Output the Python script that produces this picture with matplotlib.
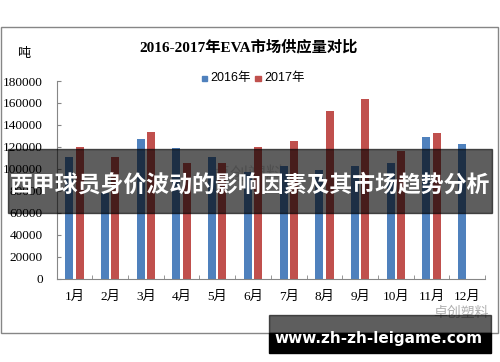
import matplotlib
matplotlib.use("Agg")
import matplotlib.pyplot as plt
import numpy as np
from matplotlib.patches import Rectangle

months = ["1月", "2月", "3月", "4月", "5月", "6月", "7月", "8月", "9月", "10月", "11月", "12月"]
supply_2016 = [110500, 78000, 127000, 119000, 110500, 97000, 103000, 99000, 103000, 105500, 129000, 123000]
supply_2017 = [120000, 110500, 133500, 105000, 105000, 119500, 125000, 153000, 164000, 116000, 132500, None]
series_names = ["2016年", "2017年"]
yticks = list(range(0, 180001, 20000))

W, H = 500, 362
SERIF = ["Liberation Serif", "Noto Sans CJK SC"]
SANS = ["Liberation Sans", "Noto Sans CJK SC"]
BLUE = "#4F81BD"
RED = "#C0504D"
GRAY = "#868686"


def fx(px):
    return px / W


def fy(py):
    return 1 - py / H


fig = plt.figure(figsize=(W / 100, H / 100), dpi=100)

# chart frame
fig.patches.append(Rectangle((fx(1), fy(333)), fx(497), (333 - 27) / H,
                             transform=fig.transFigure, fill=False,
                             edgecolor=GRAY, linewidth=1.0, zorder=0))

# faint watermark behind bars
fig.text(fx(248), fy(175), "卓创塑料", family=SANS, fontsize=13, color="#d6d6d6",
         ha="center", va="center", zorder=-1)

ax = fig.add_axes([fx(56.7), fy(278.7), fx(485 - 56.7), (278.7 - 81) / H])
ax.patch.set_visible(False)
x = np.arange(len(months))
bw = 0.224
off = 0.145
v16 = [v if v is not None else 0 for v in supply_2016]
v17 = [v if v is not None else 0 for v in supply_2017]
ax.bar(x - off, v16, width=bw, color=BLUE, label=series_names[0])
ax.bar(x + off, v17, width=bw, color=RED, label=series_names[1])

ax.set_xlim(-0.5, len(months) - 0.5)
ax.set_ylim(0, 180000)
ax.set_yticks(yticks)
ax.set_yticklabels([str(v) for v in yticks], family=SERIF, fontsize=9.5)
ax.set_xticks(x)
ax.set_xticklabels(months, family=SERIF, fontsize=9.5)
ax.set_xticks(np.arange(-0.5, len(months), 1.0), minor=True)
ax.tick_params(axis="x", which="major", length=0, pad=9)
ax.tick_params(axis="x", which="minor", direction="in", length=3, color=GRAY)
ax.tick_params(axis="y", direction="in", length=3, color=GRAY, pad=10)
for s in ["top", "right"]:
    ax.spines[s].set_visible(False)
for s in ["left", "bottom"]:
    ax.spines[s].set_color(GRAY)

fig.text(fx(249), fy(47), "2016-2017年EVA市场供应量对比", family=SERIF,
         fontsize=11, fontweight="bold", ha="center", va="center")
fig.text(fx(24), fy(54), "吨", family=SERIF, fontsize=9.5, ha="center", va="center")

# legend
fig.patches.append(Rectangle((fx(201.5), fy(81)), fx(5.5), 5.5 / H,
                             transform=fig.transFigure, color=BLUE))
fig.text(fx(210), fy(78), series_names[0], family=SANS, fontsize=9, ha="left", va="center")
fig.patches.append(Rectangle((fx(255), fy(81)), fx(5.5), 5.5 / H,
                             transform=fig.transFigure, color=RED))
fig.text(fx(264), fy(78), series_names[1], family=SANS, fontsize=9, ha="left", va="center")

fig.text(fx(461), fy(313), "卓创塑料", family=SANS, fontsize=10, color="#b0b0b0",
         ha="center", va="center")

# overlay banner
fig.patches.append(Rectangle((fx(8), fy(213)), fx(492 - 8), (213 - 149) / H,
                             transform=fig.transFigure, color="black", alpha=0.63, zorder=5))
fig.text(fx(250), fy(185), "西甲球员身价波动的影响因素及其市场趋势分析",
         family=["Noto Sans CJK SC"], fontsize=16.5, fontweight="bold", color="white",
         ha="center", va="center", zorder=6)

# bottom banner
fig.patches.append(Rectangle((fx(269), fy(333)), fx(491 - 269), (333 - 315) / H,
                             transform=fig.transFigure, color="black", alpha=0.63, zorder=5))
fig.patches.append(Rectangle((fx(269), fy(353)), fx(491 - 269), (353 - 333) / H,
                             transform=fig.transFigure, color="black", zorder=5))
fig.text(fx(379), fy(339), "www.zh-zh-leigame.com", family=["DejaVu Sans"],
         fontsize=11, fontweight="bold", color="white", ha="center", va="center", zorder=6)

fig.savefig("out.png", dpi=100)
